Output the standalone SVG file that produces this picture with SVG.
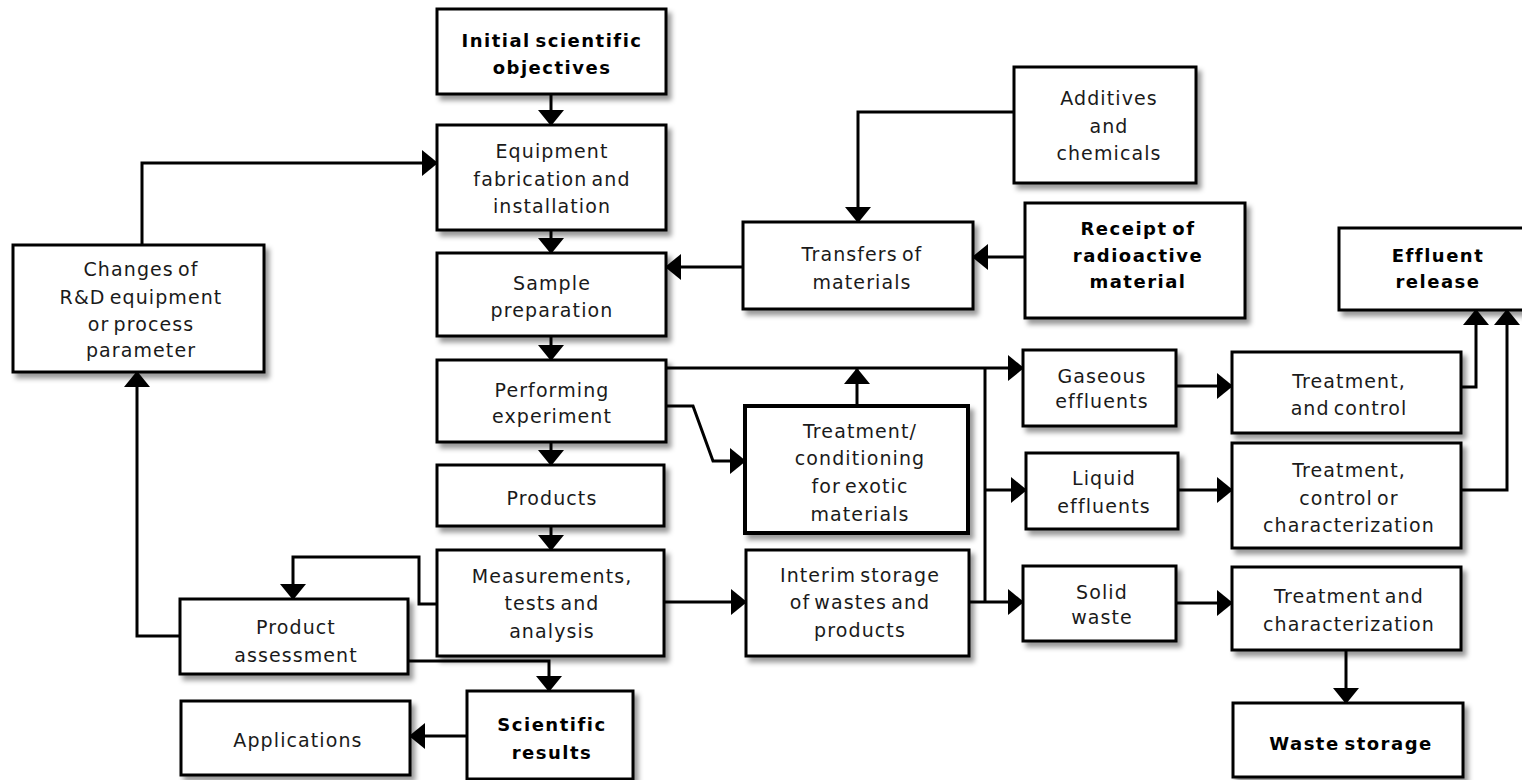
<svg xmlns="http://www.w3.org/2000/svg" width="1522" height="780" viewBox="0 0 1522 780">
<style>
.box{fill:#fff;stroke:#000;stroke-width:3}
.thick{stroke-width:4}
text{font-family:"DejaVu Sans","Liberation Sans",sans-serif;font-size:19px;letter-spacing:1.1px;word-spacing:-3px;text-anchor:middle;fill:#1a1a1a}
.b{font-size:18px;font-weight:bold;letter-spacing:1.5px;fill:#000}
.c{fill:none;stroke:#000;stroke-width:3;marker-end:url(#ah)}
.n{fill:none;stroke:#000;stroke-width:3}
</style>
<defs>
<filter id="sh" x="-10%" y="-10%" width="130%" height="140%">
<feDropShadow dx="4" dy="5" stdDeviation="2.5" flood-color="#000" flood-opacity="0.4"/>
</filter>
<marker id="ah" viewBox="0 0 16 26" refX="15" refY="13" markerWidth="16" markerHeight="26" orient="auto" markerUnits="userSpaceOnUse">
<path d="M0,0 L16,13 L0,26 Z" fill="#000"/>
</marker>
</defs>
<rect width="1522" height="780" fill="#fff"/>

<g id="connectors">
<path class="c" d="M551,94 V125"/>
<path class="c" d="M551,230 V253"/>
<path class="c" d="M551,336 V360"/>
<path class="c" d="M551,442 V465"/>
<path class="c" d="M551,526 V550"/>
<path class="c" d="M142,245 V163 H437"/>
<path class="c" d="M1014,112 H858 V222"/>
<path class="c" d="M1025,257 H973"/>
<path class="c" d="M743,267 H666"/>
<path class="c" d="M664,368 H1023"/>
<path class="c" d="M857,406 V369"/>
<path class="c" d="M666,406 H693 L713,461 H745"/>
<path class="c" d="M664,602 H746"/>
<path class="n" d="M985,368 V602"/>
<path class="c" d="M985,490 H1026"/>
<path class="c" d="M969,602 H1023"/>
<path class="c" d="M1176,386 H1232"/>
<path class="c" d="M1178,490 H1232"/>
<path class="c" d="M1176,603 H1232"/>
<path class="c" d="M1461,387 H1476 V310"/>
<path class="c" d="M1461,490 H1507 V310"/>
<path class="c" d="M1346,650 V703"/>
<path class="c" d="M437,604 H419 V557 H293 V599"/>
<path class="c" d="M408,661 H549 V691"/>
<path class="c" d="M467,736 H410"/>
<path class="c" d="M180,636 H137 V372"/>
</g>

<g id="initial"><rect class="box" x="437" y="9" width="229" height="85" filter="url(#sh)"/>
<text class="b" x="552" y="47">Initial scientific</text><text class="b" x="552" y="74">objectives</text></g>

<g id="equipment"><rect class="box" x="437" y="125" width="229" height="105" filter="url(#sh)"/>
<text x="552" y="158">Equipment</text><text x="552" y="186">fabrication and</text><text x="552" y="213">installation</text></g>

<g id="sample"><rect class="box" x="437" y="253" width="229" height="83" filter="url(#sh)"/>
<text x="552" y="290">Sample</text><text x="552" y="317">preparation</text></g>

<g id="performing"><rect class="box" x="437" y="360" width="229" height="82" filter="url(#sh)"/>
<text x="552" y="397">Performing</text><text x="552" y="423">experiment</text></g>

<g id="products"><rect class="box" x="437" y="465" width="227" height="61" filter="url(#sh)"/>
<text x="552" y="505">Products</text></g>

<g id="measurements"><rect class="box" x="437" y="550" width="227" height="106" filter="url(#sh)"/>
<text x="552" y="583">Measurements,</text><text x="552" y="610">tests and</text><text x="552" y="638">analysis</text></g>

<g id="scientific"><rect class="box" x="467" y="691" width="166" height="88" filter="url(#sh)"/>
<text class="b" x="552" y="731">Scientific</text><text class="b" x="552" y="759">results</text></g>

<g id="applications"><rect class="box" x="181" y="701" width="229" height="74" filter="url(#sh)"/>
<text x="298" y="747">Applications</text></g>

<g id="assessment"><rect class="box" x="180" y="599" width="228" height="75" filter="url(#sh)"/>
<text x="296" y="634">Product</text><text x="296" y="662">assessment</text></g>

<g id="changes"><rect class="box" x="13" y="245" width="251" height="127" filter="url(#sh)"/>
<text x="141" y="276">Changes of</text><text x="141" y="304">R&amp;D equipment</text><text x="141" y="331">or process</text><text x="141" y="357">parameter</text></g>

<g id="transfers"><rect class="box" x="743" y="222" width="230" height="87" filter="url(#sh)"/>
<text x="862" y="261">Transfers of</text><text x="862" y="289">materials</text></g>

<g id="additives"><rect class="box" x="1014" y="67" width="182" height="116" filter="url(#sh)"/>
<text x="1109" y="105">Additives</text><text x="1109" y="133">and</text><text x="1109" y="160">chemicals</text></g>

<g id="receipt"><rect class="box" x="1025" y="203" width="220" height="115" filter="url(#sh)"/>
<text class="b" x="1138" y="235">Receipt of</text><text class="b" x="1138" y="262">radioactive</text><text class="b" x="1138" y="288">material</text></g>

<g id="effluent-release"><rect class="box" x="1339" y="228" width="200" height="82" filter="url(#sh)"/>
<text class="b" x="1438" y="262">Effluent</text><text class="b" x="1438" y="288">release</text></g>

<g id="treatment-conditioning"><rect class="box thick" x="745" y="406" width="223" height="127" filter="url(#sh)"/>
<text x="860" y="438">Treatment/</text><text x="860" y="465">conditioning</text><text x="860" y="493">for exotic</text><text x="860" y="521">materials</text></g>

<g id="interim"><rect class="box" x="746" y="550" width="223" height="106" filter="url(#sh)"/>
<text x="860" y="582">Interim storage</text><text x="860" y="609">of wastes and</text><text x="860" y="637">products</text></g>

<g id="gaseous"><rect class="box" x="1023" y="350" width="153" height="76" filter="url(#sh)"/>
<text x="1102" y="383">Gaseous</text><text x="1102" y="408">effluents</text></g>

<g id="liquid"><rect class="box" x="1026" y="453" width="152" height="76" filter="url(#sh)"/>
<text x="1104" y="485">Liquid</text><text x="1104" y="513">effluents</text></g>

<g id="solid"><rect class="box" x="1023" y="566" width="153" height="75" filter="url(#sh)"/>
<text x="1102" y="599">Solid</text><text x="1102" y="624">waste</text></g>

<g id="treatment-gas"><rect class="box" x="1232" y="352" width="229" height="81" filter="url(#sh)"/>
<text x="1349" y="388">Treatment,</text><text x="1349" y="415">and control</text></g>

<g id="treatment-liquid"><rect class="box" x="1232" y="443" width="229" height="105" filter="url(#sh)"/>
<text x="1349" y="477">Treatment,</text><text x="1349" y="505">control or</text><text x="1349" y="532">characterization</text></g>

<g id="treatment-solid"><rect class="box" x="1232" y="567" width="229" height="83" filter="url(#sh)"/>
<text x="1349" y="603">Treatment and</text><text x="1349" y="631">characterization</text></g>

<g id="waste-storage"><rect class="box" x="1233" y="703" width="230" height="74" filter="url(#sh)"/>
<text class="b" x="1351" y="750">Waste storage</text></g>
</svg>
